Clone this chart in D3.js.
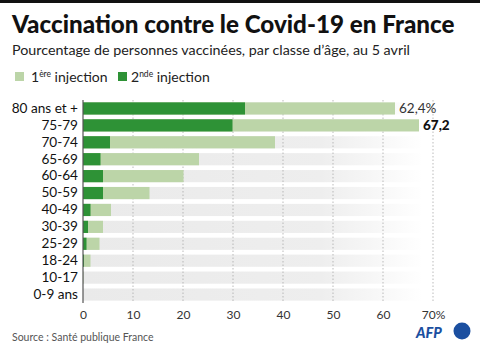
<!DOCTYPE html>
<html>
<head>
<meta charset="utf-8">
<script src="https://cdn.jsdelivr.net/npm/d3@7"></script>
<style>
  body { margin: 0; background: #fff; }
  svg { display: block; font-family: Lato, "Noto Sans", sans-serif; }
</style>
</head>
<body>
<div id="chart"></div>
<script>
// Data read from the AFP graphic
const ageGroups = ['80 ans et +', '75-79', '70-74', '65-69', '60-64', '50-59', '40-49', '30-39', '25-29', '18-24', '10-17', '0-9 ans']
const firstDose = [62.4, 67.2, 38.4, 23.2, 20.1, 13.3, 5.6, 4.0, 3.3, 1.5, 0.1, 0]
const secondDose = [32.4, 29.9, 5.4, 3.5, 4.0, 4.0, 1.5, 1.0, 0.7, 0.2, 0, 0]
const xTicks = [0, 10, 20, 30, 40, 50, 60, 70]
const valueLabels = [{ i: 0, text: '62,4%', bold: false }, { i: 1, text: '67,2', bold: true }]

const W = 480, H = 353
const margin = { top: 100, left: 83, right: 47, bottom: 50 }

const svg = d3.select('#chart').append('svg')
  .attr('width', W)
  .attr('height', H)

// top black rule
svg.append('rect').attr('x', 0).attr('y', 0).attr('width', W).attr('height', 3).attr('fill', '#111')

svg.append('text')
  .attr('x', 12).attr('y', 33)
  .attr('font-size', 24.2).attr('font-weight', 900).attr('fill', '#111')
  .text('Vaccination contre le Covid-19 en France')

svg.append('text')
  .attr('x', 12).attr('y', 55)
  .attr('font-size', 14.3).attr('fill', '#222')
  .text('Pourcentage de personnes vaccinées, par classe d’âge, au 5 avril')

// legend
const legend = svg.append('g').attr('font-size', 14).attr('fill', '#222')
legend.append('rect').attr('x', 15).attr('y', 72).attr('width', 9).attr('height', 9).attr('fill', '#bcd5a8')
const t1 = legend.append('text').attr('x', 31).attr('y', 82)
t1.append('tspan').text('1')
t1.append('tspan').attr('font-size', 8.5).attr('dy', -5).text('ère')
t1.append('tspan').attr('dy', 5).text(' injection')
legend.append('rect').attr('x', 118).attr('y', 72).attr('width', 9).attr('height', 9).attr('fill', '#2e9236')
const t2 = legend.append('text').attr('x', 131).attr('y', 82)
t2.append('tspan').text('2')
t2.append('tspan').attr('font-size', 8.5).attr('dy', -5).text('nde')
t2.append('tspan').attr('dy', 5).text(' injection')

const x = d3.scaleLinear().domain([0, 70]).range([margin.left, W - margin.right])
const y = d3.scaleBand().domain(ageGroups).range([margin.top, H - margin.bottom]).paddingInner(0.28).paddingOuter(0.14)

const defs = svg.append('defs')
const grad = defs.append('linearGradient').attr('id', 'bgfade')
  .attr('gradientUnits', 'userSpaceOnUse')
  .attr('x1', x(0)).attr('x2', x(68)).attr('y1', 0).attr('y2', 0)
grad.append('stop').attr('offset', '0%').attr('stop-color', '#eaeaea')
grad.append('stop').attr('offset', '70%').attr('stop-color', '#eeeeee')
grad.append('stop').attr('offset', '100%').attr('stop-color', '#ffffff')

// background bands
svg.append('g').selectAll('rect')
  .data(ageGroups)
  .join('rect')
  .attr('x', x(0))
  .attr('y', d => y(d))
  .attr('width', x(68) - x(0))
  .attr('height', y.bandwidth())
  .attr('fill', 'url(#bgfade)')

// dotted grid
svg.append('g').selectAll('line')
  .data(xTicks.slice(1))
  .join('line')
  .attr('x1', d => x(d)).attr('x2', d => x(d))
  .attr('y1', margin.top).attr('y2', H - margin.bottom)
  .attr('stroke', '#aaa')
  .attr('stroke-width', 0.8)
  .attr('stroke-dasharray', '1.5,2')

// 1st injection
svg.append('g').selectAll('rect')
  .data(firstDose)
  .join('rect')
  .attr('x', x(0))
  .attr('y', (d, i) => y(ageGroups[i]))
  .attr('width', d => x(d) - x(0))
  .attr('height', y.bandwidth())
  .attr('fill', '#bcd5a8')

// 2nd injection
svg.append('g').selectAll('rect')
  .data(secondDose)
  .join('rect')
  .attr('x', x(0))
  .attr('y', (d, i) => y(ageGroups[i]))
  .attr('width', d => x(d) - x(0))
  .attr('height', y.bandwidth())
  .attr('fill', '#2e9236')

// value labels
svg.append('g').selectAll('text')
  .data(valueLabels)
  .join('text')
  .attr('x', d => x(firstDose[d.i]) + 4)
  .attr('y', d => y(ageGroups[d.i]) + y.bandwidth() / 2)
  .attr('dy', '0.36em')
  .attr('font-size', 13.5)
  .attr('font-weight', d => d.bold ? 900 : 400)
  .attr('fill', d => d.bold ? '#111' : '#333')
  .text(d => d.text)

// y axis
const yAxis = svg.append('g')
  .attr('transform', `translate(${x(0)},0)`)
  .call(d3.axisLeft(y).tickSize(0).tickPadding(5))
yAxis.select('.domain').remove()
yAxis.selectAll('text').attr('font-size', 13.6).attr('fill', '#111').attr('font-family', 'Lato, sans-serif')

svg.append('line')
  .attr('x1', x(0)).attr('x2', x(0))
  .attr('y1', margin.top).attr('y2', H - margin.bottom)
  .attr('stroke', '#555').attr('stroke-width', 1.2)

// x axis
const xAxis = svg.append('g')
  .attr('transform', `translate(0,${H - margin.bottom})`)
  .call(d3.axisBottom(x).tickValues(xTicks).tickSize(0).tickPadding(7)
    .tickFormat(d => d === 70 ? '70%' : d))
xAxis.select('.domain').remove()
xAxis.selectAll('text').attr('font-size', 12).attr('fill', '#333').attr('font-family', 'Lato, sans-serif')

svg.append('text')
  .attr('x', 12).attr('y', 341)
  .attr('font-size', 10.5).attr('fill', '#555')
  .text('Source : Santé publique France')

// AFP logo
svg.append('text')
  .attr('x', 416).attr('y', 338)
  .attr('font-size', 14.5).attr('font-weight', 900).attr('font-style', 'italic')
  .attr('fill', '#1b4fa0')
  .text('AFP')
svg.append('circle').attr('cx', 462).attr('cy', 331).attr('r', 8.5).attr('fill', '#1b4fa0')
</script>
</body>
</html>
